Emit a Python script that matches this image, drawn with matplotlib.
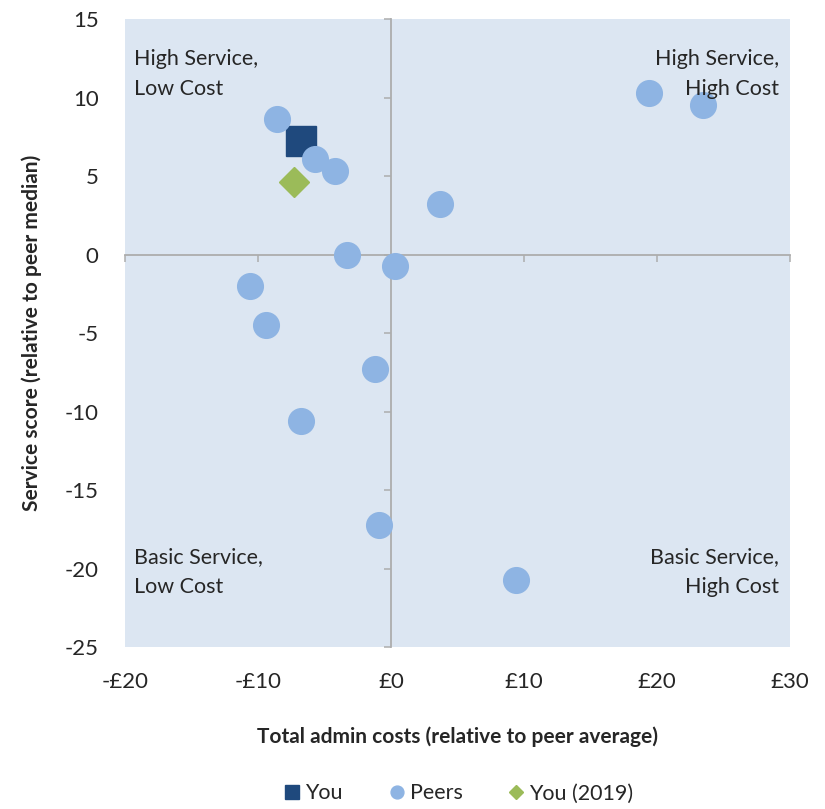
import numpy as np
import matplotlib
matplotlib.use('Agg')
import matplotlib.pyplot as plt
from matplotlib.ticker import FuncFormatter

plt.rcParams['font.family'] = ['Lato', 'DejaVu Sans']
plt.rcParams['axes.unicode_minus'] = False

# data
you_x = [-6.8]
you_y = [7.2]
peers_x = [-8.6, -5.7, -4.2, 3.7, -3.3, 0.3, -10.6, -9.4, -1.2, -6.8, -0.9, 9.4, 19.4, 23.5]
peers_y = [8.6, 6.1, 5.3, 3.2, 0.0, -0.7, -2.0, -4.5, -7.3, -10.6, -17.2, -20.7, 10.3, 9.5]
you19_x = [-7.3]
you19_y = [4.6]

x_ticks = [-20, -10, 0, 10, 20, 30]
y_ticks = [15, 10, 5, 0, -5, -10, -15, -20, -25]

grey = '#ADADAD'
txt = '#262626'

fig = plt.figure(figsize=(8.25, 8.09), dpi=100)
ax = fig.add_axes([0.1515, 0.2002, 0.806, 0.7763])
ax.set_facecolor('#DCE6F2')

ax.plot(you_x, you_y, ls='none', marker='s', ms=21.5, color='#1F497D', label='You', zorder=3)
ax.plot(peers_x, peers_y, ls='none', marker='o', ms=18.5, color='#8EB4E3', label='Peers', zorder=4)
ax.plot(you19_x, you19_y, ls='none', marker='D', ms=15, color='#9BBB59', label='You (2019)', zorder=5)

ax.set_xlim(-20, 30)
ax.set_ylim(-25, 15)

# axes crossing at zero
for s in ['top', 'right']:
    ax.spines[s].set_visible(False)
ax.spines['left'].set_position(('data', 0))
ax.spines['bottom'].set_position(('data', 0))
for s in ['left', 'bottom']:
    ax.spines[s].set_color(grey)
    ax.spines[s].set_linewidth(1.3)
ax.set_xticks(x_ticks)
ax.set_yticks(y_ticks)
ax.tick_params(direction='out', length=5, width=1.1, color=grey,
               labelleft=False, labelbottom=False)

# labels on the outer edges
money = FuncFormatter(lambda v, p: ('-£%d' % -v) if v < 0 else '£%d' % v)
secx = ax.secondary_xaxis('bottom')
secx.set_xticks(x_ticks)
secx.xaxis.set_major_formatter(money)
secx.spines['bottom'].set_visible(False)
secx.tick_params(length=0, pad=18, labelsize=16, labelcolor=txt)
secx.set_xlabel('Total admin costs (relative to peer average)', fontsize=15,
                fontweight='bold', color=txt, labelpad=25)

secy = ax.secondary_yaxis('left')
secy.set_yticks(y_ticks)
secy.spines['left'].set_visible(False)
secy.tick_params(length=0, pad=19, labelsize=16, labelcolor=txt)
secy.set_ylabel('Service score (relative to peer median)', fontsize=15,
                fontweight='bold', color=txt, labelpad=16)

qfont = dict(fontsize=15.5, color=txt, linespacing=1.6, transform=ax.transAxes, zorder=6)
ax.text(0.013, 0.952, 'High Service,\nLow Cost', ha='left', va='top', **qfont)
ax.text(0.984, 0.952, 'High Service,\nHigh Cost', ha='right', va='top', multialignment='right', **qfont)
ax.text(0.013, 0.08, 'Basic Service,\nLow Cost', ha='left', va='bottom', **qfont)
ax.text(0.984, 0.08, 'Basic Service,\nHigh Cost', ha='right', va='bottom', multialignment='right', **qfont)

ax.legend(loc='center', bbox_to_anchor=(0.5, -0.233), ncol=3, frameon=False,
          fontsize=15.5, markerscale=0.5, handletextpad=0.1, columnspacing=2.0,
          handlelength=1.0, labelcolor=txt)

fig.savefig('out.png', dpi=100)
